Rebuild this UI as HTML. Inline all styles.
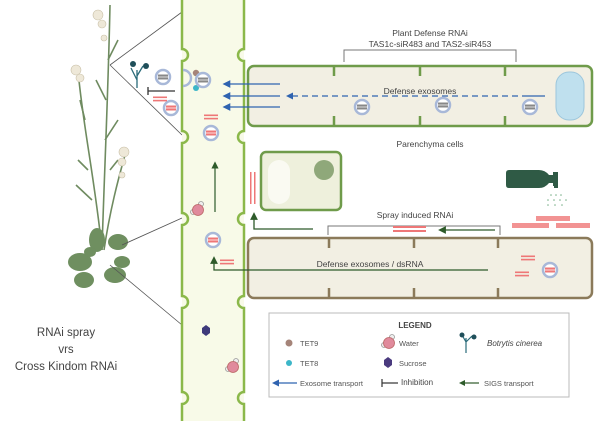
<!DOCTYPE html>
<html><head><meta charset="utf-8"><style>
body{margin:0;background:#fff}
svg{display:block;font-family:"Liberation Sans",sans-serif}
</style></head><body>
<svg width="600" height="421" viewBox="0 0 600 421">
<defs>
<marker id="ab" markerWidth="6" markerHeight="6" refX="5" refY="3" orient="auto"><path d="M6,0 L0,3 L6,6z" fill="#2f63b0"/></marker>
<marker id="ag" markerWidth="6" markerHeight="6" refX="3" refY="3" orient="auto"><path d="M0,0 L6,3 L0,6z" fill="#2e5b2a"/></marker>
<g id="ves"><circle r="7" fill="#fff" stroke="#a8b8d8" stroke-width="2.5"/><rect x="-5" y="-2.5" width="10" height="5" fill="#888"/><line x1="-5" y1="0" x2="5" y2="0" stroke="#ddd" stroke-width="1"/></g>
<g id="vesr"><circle r="7" fill="#fff" stroke="#a8b8d8" stroke-width="2.5"/><rect x="-5" y="-2.5" width="10" height="5" fill="#e77"/><line x1="-5" y1="0" x2="5" y2="0" stroke="#fdd" stroke-width="1"/></g>
<g id="ds"><rect x="-7" y="-2.5" width="14" height="1.6" fill="#e77"/><rect x="-7" y="0.8" width="14" height="1.6" fill="#e77"/></g>
<g id="water"><circle cx="-5" cy="2" r="2.5" fill="#eee" stroke="#999" stroke-width=".8"/><circle cx="3" cy="-6" r="2.5" fill="#eee" stroke="#999" stroke-width=".8"/><circle r="5.5" fill="#e08a9c" stroke="#b66" stroke-width=".8"/></g>
</defs>
<!-- plant -->
<g stroke="#6f8b60" stroke-width="1.6" fill="none">
<path d="M102,250 C104,180 108,100 110,5"/><path d="M102,250 C95,180 82,120 78,70"/><path d="M104,250 C110,210 118,180 125,155"/>
<path d="M108,60 L118,40 M106,100 L96,80 M105,140 L118,120 M85,120 L80,100 M88,170 L78,160 M110,170 L118,160 M92,200 L76,185"/>
</g>
<g fill="#eee8d8" stroke="#c9c0a8" stroke-width=".6">
<circle cx="98" cy="15" r="5"/><circle cx="102" cy="24" r="4"/><circle cx="104" cy="38" r="3"/><circle cx="76" cy="70" r="5"/><circle cx="80" cy="78" r="4"/><circle cx="124" cy="152" r="5"/><circle cx="122" cy="162" r="4"/><circle cx="122" cy="175" r="3"/>
</g>
<g fill="#6f8f60">
<ellipse cx="80" cy="262" rx="12" ry="9"/><ellipse cx="97" cy="240" rx="8" ry="12"/><ellipse cx="118" cy="242" rx="10" ry="8"/><ellipse cx="84" cy="280" rx="10" ry="8"/><ellipse cx="115" cy="275" rx="11" ry="8"/><ellipse cx="122" cy="262" rx="8" ry="6"/><ellipse cx="90" cy="252" rx="6" ry="5"/>
</g>
<g stroke="#555" stroke-width="0.8">
<line x1="110" y1="65" x2="182" y2="12"/><line x1="110" y1="65" x2="182" y2="135"/>
<line x1="122" y1="245" x2="182" y2="218"/><line x1="110" y1="265" x2="182" y2="325"/>
</g>
<text x="66" y="336" font-size="11.5" fill="#444" text-anchor="middle">RNAi spray</text>
<text x="66" y="353" font-size="11.5" fill="#444" text-anchor="middle">vrs</text>
<text x="66" y="370" font-size="11.5" fill="#444" text-anchor="middle">Cross Kindom RNAi</text>
<!-- fungus & inhibition -->
<g stroke="#2a6b7a" stroke-width="1.3" fill="none"><path d="M137,88 L137,70 M137,76 L143,66 M137,80 L131,68"/></g>
<circle cx="133" cy="64" r="3" fill="#1f4f5a"/><circle cx="146" cy="66" r="3" fill="#1f4f5a"/>
<use href="#ves" x="163" y="77"/><use href="#vesr" x="171" y="108"/><use href="#ds" x="160" y="99"/>
<line x1="148" y1="91" x2="175" y2="91" stroke="#333" stroke-width="1.3"/><line x1="148" y1="87" x2="148" y2="95" stroke="#333" stroke-width="1.3"/>
<!-- phloem tube -->
<rect x="182" y="-5" width="62" height="430" fill="#f8fae8"/>
<g stroke="#8bb84a" stroke-width="2.5" fill="none">
<path d="M182,-5 V49 a6,6 0 0,1 0,12 V131 a6,6 0 0,1 0,12 V213 a6,6 0 0,1 0,12 V296 a6,6 0 0,1 0,12 V392 a6,6 0 0,1 0,12 V430"/>
<path d="M244,-5 V49 a6,6 0 0,0 0,12 V131 a6,6 0 0,0 0,12 V213 a6,6 0 0,0 0,12 V296 a6,6 0 0,0 0,12 V392 a6,6 0 0,0 0,12 V430"/>
</g>
<!-- top parenchyma row -->
<rect x="248" y="66" width="344" height="60" rx="6" fill="#f2efe3" stroke="#6f9b4a" stroke-width="2.5"/>
<g stroke="#6f9b4a" stroke-width="2.5" fill="none"><path d="M334,66 v10 M420,66 v10 M505,66 v10 M334,126 v-10 M420,126 v-10 M505,126 v-10"/></g>
<rect x="556" y="72" width="28" height="48" rx="13" fill="#bfe0ee" stroke="#9cc6dc"/>
<polyline points="344,62 344,50 516,50 516,62" fill="none" stroke="#777" stroke-width="1"/>
<text x="430" y="36" font-size="8.5" fill="#444" text-anchor="middle">Plant Defense RNAi</text>
<text x="430" y="47" font-size="8.5" fill="#444" text-anchor="middle">TAS1c-siR483 and TAS2-siR453</text>
<text x="420" y="94" font-size="8.5" fill="#444" text-anchor="middle">Defense exosomes</text>
<line x1="292" y1="96" x2="525" y2="96" stroke="#2f63b0" stroke-width="1.2" stroke-dasharray="6,4" marker-start="url(#ab)"/>
<line x1="525" y1="96" x2="545" y2="96" stroke="#2f63b0" stroke-width="1.2"/>
<g stroke="#2f63b0" stroke-width="1.3"><line x1="229" y1="84" x2="280" y2="84" marker-start="url(#ab)"/><line x1="229" y1="96" x2="280" y2="96" marker-start="url(#ab)"/><line x1="229" y1="107" x2="280" y2="107" marker-start="url(#ab)"/></g>
<use href="#ves" x="362" y="107"/><use href="#ves" x="443" y="105"/><use href="#ves" x="530" y="107"/>
<text x="430" y="147" font-size="8.5" fill="#444" text-anchor="middle">Parenchyma cells</text>
<!-- in phloem top -->
<path d="M183,70 a8,8 0 0,1 0,16" fill="none" stroke="#a8b8d8" stroke-width="2.5"/>
<circle cx="196" cy="73" r="3.2" fill="#a58479"/><circle cx="196" cy="88" r="3" fill="#3cb6c8"/>
<use href="#ves" x="203" y="80"/><use href="#ds" x="211" y="117"/><use href="#vesr" x="211" y="133"/>
<!-- companion cell -->
<rect x="261" y="152" width="80" height="58" rx="5" fill="#eef0dc" stroke="#6f9b4a" stroke-width="2.5"/>
<rect x="268" y="160" width="22" height="44" rx="11" fill="#fafaf2"/>
<circle cx="324" cy="170" r="10" fill="#8fa87a"/>
<rect x="250" y="172" width="1.5" height="32" fill="#e77"/><rect x="254" y="172" width="1.5" height="32" fill="#e77"/>
<line x1="215" y1="212" x2="215" y2="165" stroke="#2e5b2a" stroke-width="1.2" marker-end="url(#ag)"/>
<use href="#water" x="198" y="210"/>
<!-- lower row -->
<rect x="248" y="238" width="344" height="60" rx="6" fill="#f2efe3" stroke="#8b7a5a" stroke-width="2.5"/>
<g stroke="#8b7a5a" stroke-width="2.5" fill="none"><path d="M329,238 v10 M414,238 v10 M498,238 v10 M329,298 v-10 M414,298 v-10 M498,298 v-10"/></g>
<path d="M313,229 H254 V216" fill="none" stroke="#2e5b2a" stroke-width="1.3" marker-end="url(#ag)"/>
<polyline points="328,235 328,226 500,226 500,235" fill="none" stroke="#777" stroke-width="1"/>
<text x="415" y="218" font-size="8.5" fill="#444" text-anchor="middle">Spray induced RNAi</text>
<rect x="393" y="226" width="33" height="2" fill="#e77"/><rect x="393" y="230" width="33" height="2" fill="#e77"/>
<line x1="495" y1="230" x2="442" y2="230" stroke="#2e5b2a" stroke-width="1.3" marker-end="url(#ag)"/>
<path d="M488,270 H214 V260" fill="none" stroke="#2e5b2a" stroke-width="1.3" marker-end="url(#ag)"/>
<text x="370" y="267" font-size="8.5" fill="#444" text-anchor="middle">Defense exosomes / dsRNA</text>
<use href="#vesr" x="213" y="240"/><use href="#ds" x="227" y="262"/>
<use href="#ds" x="528" y="258"/><use href="#ds" x="522" y="274"/><use href="#vesr" x="550" y="270"/>
<!-- spray -->
<path d="M506,173 q0,-3 3,-3 h30 q6,0 10,5 h4 v-3 h5 v14 h-5 v-3 h-4 q-4,5 -10,5 h-30 q-3,0 -3,-3 z" fill="#2f5a45"/><rect x="554" y="183" width="4" height="5" fill="#2f5a45"/>
<g fill="#7ab08a"><circle cx="551" cy="195" r=".8"/><circle cx="556" cy="195" r=".8"/><circle cx="561" cy="195" r=".8"/><circle cx="548" cy="200" r=".8"/><circle cx="554" cy="200" r=".8"/><circle cx="560" cy="200" r=".8"/><circle cx="566" cy="200" r=".8"/><circle cx="548" cy="205" r=".8"/><circle cx="555" cy="205" r=".8"/><circle cx="562" cy="205" r=".8"/></g>
<rect x="536" y="216" width="34" height="5" fill="#f08080" opacity=".85"/><rect x="512" y="223" width="37" height="5" fill="#f08080" opacity=".85"/><rect x="556" y="223" width="34" height="5" fill="#f08080" opacity=".85"/>
<!-- phloem bottom contents -->
<path d="M202,328 l4,-3 l4,3 v5 l-4,3 l-4,-3z" fill="#3e3a7a"/>
<use href="#water" x="233" y="367"/>
<!-- legend -->
<rect x="269" y="313" width="300" height="84" fill="#fff" stroke="#bbb" stroke-width="1"/>
<text x="415" y="328" font-size="8" font-weight="bold" fill="#444" text-anchor="middle">LEGEND</text>
<circle cx="289" cy="343" r="3.5" fill="#a58479"/><text x="300" y="346" font-size="7.5" fill="#555">TET9</text>
<circle cx="289" cy="363" r="3" fill="#3cb6c8"/><text x="300" y="366" font-size="7.5" fill="#555">TET8</text>
<use href="#water" x="389" y="343"/><text x="399" y="346" font-size="7.5" fill="#555">Water</text>
<path d="M384,360 l4,-3 l4,3 v5 l-4,3 l-4,-3z" fill="#4a3a7e"/><text x="399" y="366" font-size="7.5" fill="#555">Sucrose</text>
<g stroke="#2a6b7a" stroke-width="1.2"><path d="M466,353 V338 M466,342 L472,336 M466,342 L462,335"/></g>
<circle cx="462" cy="335" r="2.5" fill="#1f4f5a"/><circle cx="474" cy="337" r="2.5" fill="#1f4f5a"/>
<text x="487" y="346" font-size="8" font-style="italic" fill="#444">Botrytis cinerea</text>
<line x1="278" y1="383" x2="297" y2="383" stroke="#2f63b0" stroke-width="1.2" marker-start="url(#ab)"/>
<text x="300" y="386" font-size="7.5" fill="#555">Exosome transport</text>
<line x1="382" y1="383" x2="398" y2="383" stroke="#333" stroke-width="1.2"/><line x1="382" y1="379" x2="382" y2="387" stroke="#333" stroke-width="1.2"/>
<text x="401" y="385" font-size="8" fill="#444">Inhibition</text>
<line x1="464" y1="383" x2="479" y2="383" stroke="#2e5b2a" stroke-width="1.2"/>
<path d="M459,383 l6,-3 v6z" fill="#2e5b2a"/>
<text x="484" y="386" font-size="7.5" fill="#555">SIGS transport</text>
</svg>
</body></html>
